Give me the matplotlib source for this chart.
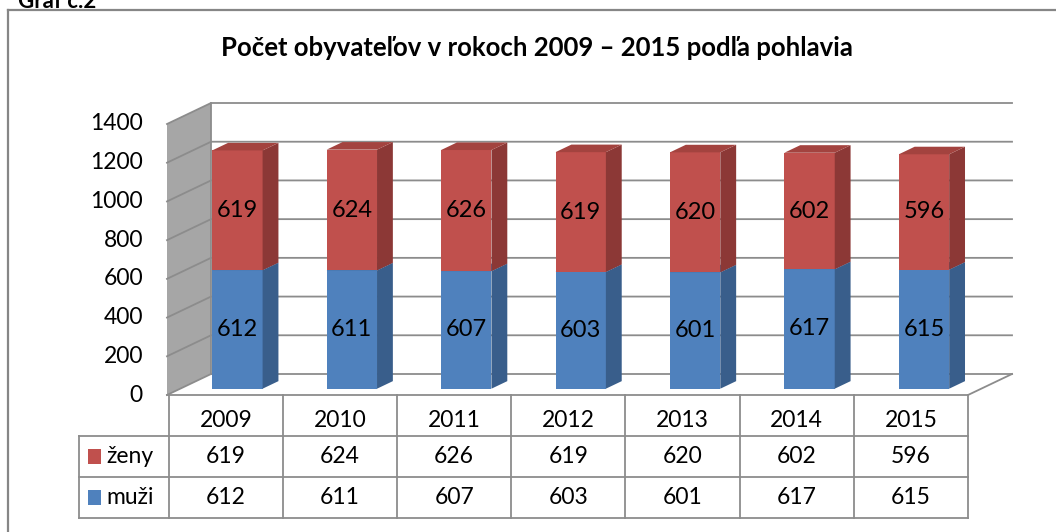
import matplotlib
matplotlib.use("Agg")
import matplotlib.pyplot as plt
from matplotlib.patches import Polygon, Rectangle
import numpy as np

# data
years = ["2009", "2010", "2011", "2012", "2013", "2014", "2015"]
zeny = [619, 624, 626, 619, 620, 602, 596]
muzi = [612, 611, 607, 603, 601, 617, 615]
series = [("muži", muzi, "#4F81BD", "#395E8B", "#4472A8"),
          ("ženy", zeny, "#C0504D", "#8C3836", "#A3433F")]
yticks = [0, 200, 400, 600, 800, 1000, 1200, 1400]

plt.rcParams['font.family'] = ['Lato', 'DejaVu Sans']
W, H = 1056, 532
fig = plt.figure(figsize=(W / 100, H / 100), dpi=100)

def px(x0, y0, x1, y1):
    # pixel box (top-left origin) -> figure fraction
    return [x0 / W, 1 - y1 / H, (x1 - x0) / W, (y1 - y0) / H]

grid_c = "#8C8C8C"
fs = 16.5
n = len(years)
ymax = 1400
# oblique depth, full depth in data units
DX, DY = 44 / 114.4, 21 / (271 / 1400)
d0, d1 = 0.30, 0.66   # bar depth range
bw = 0.44             # bar width (fraction of category)

def P(x, y, d):
    return (x + d * DX, y + d * DY)

ax = fig.add_axes(px(167, 124, 968, 395))
ax.set_xlim(0, n)
ax.set_ylim(0, ymax)
ax.axis("off")

# left side wall
ax.add_patch(Polygon([P(0, 0, 0), P(0, 0, 1), P(0, ymax, 1), P(0, ymax, 0)],
                     closed=True, facecolor="#A6A6A6", edgecolor="none",
                     clip_on=False, zorder=1))
for v in yticks:
    xs, ys = zip(P(0, v, 0), P(0, v, 1), P(n, v, 1))
    ax.plot(xs, ys, color=grid_c, lw=1.3, clip_on=False, zorder=2)
xs, ys = zip(P(0, 0, 1), P(0, ymax, 1))
ax.plot(xs, ys, color=grid_c, lw=1.3, clip_on=False, zorder=2)
# floor edges
xs, ys = zip(P(0, 0, 0), P(n, 0, 0), P(n, 0, 1))
ax.plot(xs, ys, color=grid_c, lw=1.3, clip_on=False, zorder=2)

for v in yticks:
    ax.text(-0.21, v, str(v), ha="right", va="center", fontsize=fs)

# bars
for i in range(n):
    x0 = i + 0.5 - bw / 2
    x1 = i + 0.5 + bw / 2
    base = 0
    for name, vals, cf, cs, ct in series:
        top = base + vals[i]
        front = [P(x0, base, d0), P(x1, base, d0), P(x1, top, d0), P(x0, top, d0)]
        side = [P(x1, base, d0), P(x1, base, d1), P(x1, top, d1), P(x1, top, d0)]
        tface = [P(x0, top, d0), P(x1, top, d0), P(x1, top, d1), P(x0, top, d1)]
        for poly, c in ((front, cf), (side, cs), (tface, ct)):
            ax.add_patch(Polygon(poly, closed=True, facecolor=c, edgecolor="none",
                                 clip_on=False, zorder=3))
        cx, cy = P(i + 0.5, base + vals[i] / 2, d0)
        ax.text(cx, cy, str(vals[i]), ha="center", va="center", fontsize=17, zorder=5)
        base = top

# data table
left = -90 / 114.4
tx = fig.add_axes(px(79, 395, 968, 518))
tx.set_xlim(left, n)
tx.set_ylim(3, 0)
tx.axis("off")
for k in range(n + 1):
    tx.plot([k, k], [0, 3], color=grid_c, lw=1.3, clip_on=False)
tx.plot([left, left], [1, 3], color=grid_c, lw=1.3, clip_on=False)
for r in (1, 2, 3):
    tx.plot([left, n], [r, r], color=grid_c, lw=1.3, clip_on=False)
for i, yr in enumerate(years):
    tx.text(i + 0.5, 0.62, yr, ha="center", va="center", fontsize=fs)
    tx.text(i + 0.5, 1.5, str(zeny[i]), ha="center", va="center", fontsize=fs)
    tx.text(i + 0.5, 2.5, str(muzi[i]), ha="center", va="center", fontsize=fs)
for r, (name, vals, cf, cs, ct) in zip((2.5, 1.5), series):
    tx.add_patch(Rectangle((-0.71, r - 0.19), 13 / 114.4, 0.38, facecolor=cf,
                           edgecolor="none", clip_on=False))
    tx.text(-0.55, r, name, ha="left", va="center", fontsize=fs)

# title and frame
fig.text(537 / W, 1 - 48 / H, "Počet obyvateľov v rokoch 2009 – 2015 podľa pohlavia",
         ha="center", va="center", fontsize=18.5, fontweight="bold")
fig.text(18 / W, 1 - 8 / H, "Graf č.2", ha="left", va="baseline",
         fontsize=16, fontweight="bold")
fig.add_artist(plt.Line2D([8 / W, 1], [1 - 10 / H, 1 - 10 / H], color="#868686",
                          lw=1.6, transform=fig.transFigure))
fig.add_artist(plt.Line2D([8 / W, 8 / W], [0, 1 - 10 / H], color="#868686",
                          lw=1.6, transform=fig.transFigure))

fig.savefig("out.png", dpi=100)
